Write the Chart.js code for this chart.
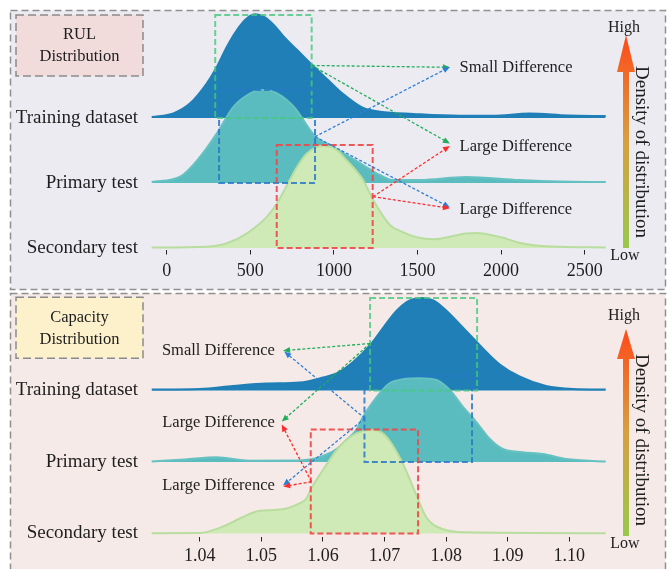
<!DOCTYPE html>
<html><head><meta charset="utf-8">
<script src="https://cdn.jsdelivr.net/npm/chart.js@4.4.1/dist/chart.umd.min.js"></script>
<style>
html,body{margin:0;padding:0;background:#fff;}
#wrap{position:relative;width:667px;height:569px;overflow:hidden;}
canvas{position:absolute;left:0;}
#c1{top:0}
#c2{top:291px}
</style></head><body>
<div id="wrap"><canvas id="c1" width="667" height="291"></canvas><canvas id="c2" width="667" height="278"></canvas></div>
<script>
// Ridge rows, bottom to top
const rowNames = ['Secondary test', 'Primary test', 'Training dataset'];

// ---- RUL distribution (kernel density, scaled to the row spacing) ----
const rulTicks = [0, 500, 1000, 1500, 2000, 2500];
const rulTrainX = [-90, 40, 140, 240, 300, 360, 420, 480, 530, 580, 640, 700, 780, 870, 965, 1055, 1175, 1275, 1475, 1750, 1950, 2170, 2400, 2626];
const rulTrainD = [0.015, 0.072, 0.226, 0.534, 0.789, 1.097, 1.354, 1.534, 1.595, 1.558, 1.431, 1.251, 1.046, 0.815, 0.585, 0.369, 0.154, 0.097, 0.062, 0.034, 0.034, 0.069, 0.038, 0.031];
const rulPrimX = [-90, 80, 200, 300, 400, 500, 570, 660, 760, 890, 975, 1075, 1175, 1275, 1355, 1515, 1790, 2110, 2350, 2626];
const rulPrimD = [0.015, 0.097, 0.405, 0.765, 1.174, 1.38, 1.431, 1.38, 1.174, 0.712, 0.585, 0.431, 0.277, 0.123, 0.046, 0.046, 0.092, 0.046, 0.023, 0.015];
const rulSecX = [-90, 240, 360, 480, 600, 660, 720, 780, 840, 925, 995, 1075, 1175, 1235, 1335, 1395, 1495, 1595, 1790, 1850, 1995, 2115, 2295, 2626];
const rulSecD = [0.008, 0.02, 0.072, 0.226, 0.482, 0.688, 0.969, 1.251, 1.457, 1.569, 1.546, 1.354, 1.046, 0.738, 0.354, 0.262, 0.165, 0.134, 0.223, 0.231, 0.169, 0.077, 0.023, 0.008];

// ---- Capacity distribution ----
const capTicks = [1.04, 1.05, 1.06, 1.07, 1.08, 1.09, 1.10];
const capTrainX = [1.0322, 1.04, 1.0454, 1.0508, 1.0562, 1.06, 1.0622, 1.0649, 1.0676, 1.0698, 1.072, 1.0741, 1.0758, 1.0779, 1.08, 1.0827, 1.0855, 1.0887, 1.0919, 1.0962, 1.1006, 1.1059];
const capTrainD = [0.014, 0.021, 0.063, 0.098, 0.112, 0.182, 0.238, 0.399, 0.629, 0.881, 1.119, 1.259, 1.294, 1.259, 1.119, 0.881, 0.629, 0.364, 0.196, 0.063, 0.021, 0.014];
const capPrimX = [1.0322, 1.0376, 1.0427, 1.0481, 1.0562, 1.06, 1.0627, 1.0638, 1.0654, 1.0665, 1.0687, 1.0708, 1.073, 1.0757, 1.0784, 1.0806, 1.0827, 1.0849, 1.0871, 1.0892, 1.0924, 1.0957, 1.0995, 1.1059];
const capPrimD = [0.007, 0.035, 0.066, 0.018, 0.021, 0.084, 0.21, 0.308, 0.448, 0.634, 0.909, 1.101, 1.157, 1.171, 1.147, 1.007, 0.773, 0.559, 0.322, 0.182, 0.136, 0.112, 0.042, 0.007];
const capSecX = [1.0322, 1.04, 1.0438, 1.0465, 1.0492, 1.0519, 1.0541, 1.0562, 1.0573, 1.0581, 1.06, 1.0627, 1.0654, 1.0676, 1.0692, 1.0708, 1.073, 1.0751, 1.0768, 1.0794, 1.0832, 1.1059];
const capSecD = [0.004, 0.007, 0.098, 0.21, 0.308, 0.329, 0.35, 0.42, 0.49, 0.629, 0.888, 1.217, 1.399, 1.448, 1.427, 1.301, 0.972, 0.552, 0.224, 0.063, 0.017, 0.004];

const SERIF = "'Liberation Serif', 'Times New Roman', serif";
const TXT = '#1e1e1e';
const COL = {
  train: '#1f7fb6', trainEdge: '#1f7fb6',
  prim: '#5bbcbf', primEdge: '#66c1c2',
  sec: '#cfeab7', secEdge: '#b8dd9e',
  gBox: 'rgba(70,200,125,0.8)', bBox: 'rgba(40,120,200,0.85)', rBox: 'rgba(240,70,70,0.9)',
  g: '#1fae5a', b: '#2c7fd6', r: '#ff2b2b'
};

function ridge(xs, ds, off, fillC, edgeC, order) {
  return {
    data: xs.map((x, i) => ({ x: x, y: off + ds[i] })),
    fill: { value: off },
    backgroundColor: fillC, borderColor: edgeC, borderWidth: 2,
    pointRadius: 0, cubicInterpolationMode: 'monotone', order: order, clip: false
  };
}

function arrow(ctx, x1, y1, x2, y2, color) {
  const a = Math.atan2(y2 - y1, x2 - x1), L = 7, W = 3;
  ctx.save();
  ctx.strokeStyle = color; ctx.fillStyle = color; ctx.lineWidth = 1.3;
  ctx.setLineDash([3, 2]);
  ctx.beginPath(); ctx.moveTo(x1, y1);
  ctx.lineTo(x2 - Math.cos(a) * L * 0.8, y2 - Math.sin(a) * L * 0.8); ctx.stroke();
  ctx.setLineDash([]);
  ctx.beginPath();
  ctx.moveTo(x2, y2);
  ctx.lineTo(x2 - L * Math.cos(a) + W * Math.sin(a), y2 - L * Math.sin(a) - W * Math.cos(a));
  ctx.lineTo(x2 - L * Math.cos(a) - W * Math.sin(a), y2 - L * Math.sin(a) + W * Math.cos(a));
  ctx.closePath(); ctx.fill();
  ctx.restore();
}

// Panel frame, title box and density colour bar (canvas pixel space)
const decor = {
  id: 'decor',
  beforeDraw(chart) {
    const d = chart.options.plugins.decor, ctx = chart.ctx;
    ctx.save();
    ctx.fillStyle = d.bg;
    ctx.fillRect(10.5, d.frameTop, 655, d.frameBottom - d.frameTop);
    ctx.strokeStyle = '#8f8f8f'; ctx.lineWidth = 1.5; ctx.setLineDash([7, 4]);
    ctx.strokeRect(10.5, d.frameTop, 655, d.frameBottom - d.frameTop);
    // title box
    ctx.fillStyle = d.titleBg;
    ctx.fillRect(16, d.titleTop, 127, 61);
    ctx.strokeStyle = '#8a8a8a'; ctx.setLineDash([8, 4]);
    ctx.strokeRect(16, d.titleTop, 127, 61);
    ctx.setLineDash([]);
    ctx.fillStyle = TXT; ctx.font = '16.5px ' + SERIF; ctx.textAlign = 'center'; ctx.textBaseline = 'middle';
    ctx.fillText(d.title[0], 79.5, d.titleTop + 20);
    ctx.fillText(d.title[1], 79.5, d.titleTop + 42);
    ctx.restore();
  },
  afterDraw(chart) {
    const d = chart.options.plugins.decor, ctx = chart.ctx;
    const cx = 626, tip = d.barTip, base = d.barBase, bot = d.barBottom;
    ctx.save();
    const g = ctx.createLinearGradient(0, bot, 0, tip);
    g.addColorStop(0, '#98c94a'); g.addColorStop(0.5, '#d7a03f'); g.addColorStop(1, '#ff4a1a');
    ctx.fillStyle = g;
    ctx.beginPath();
    ctx.moveTo(cx - 3, bot); ctx.lineTo(cx - 3, base); ctx.lineTo(cx - 9, base);
    ctx.lineTo(cx, tip); ctx.lineTo(cx + 9, base); ctx.lineTo(cx + 3, base); ctx.lineTo(cx + 3, bot);
    ctx.closePath(); ctx.fill();
    ctx.fillStyle = TXT; ctx.font = '16px ' + SERIF; ctx.textAlign = 'center'; ctx.textBaseline = 'middle';
    ctx.fillText('High', 624, d.highY);
    ctx.fillText('Low', 625, d.lowY);
    ctx.translate(641, d.densY); ctx.rotate(Math.PI / 2);
    ctx.font = '19px ' + SERIF;
    ctx.fillText('Density of distribution', 0, 0);
    ctx.restore();
  }
};

// Dashed comparison boxes, arrows and notes (data space)
const notes = {
  id: 'notes',
  afterDatasetsDraw(chart) {
    const n = chart.options.plugins.notes, ctx = chart.ctx;
    const X = v => chart.scales.x.getPixelForValue(v), Y = v => chart.scales.y.getPixelForValue(v);
    ctx.save();
    n.boxes.forEach(b => {
      ctx.strokeStyle = COL[b.c]; ctx.lineWidth = 2; ctx.setLineDash([6, 3]);
      ctx.strokeRect(X(b.x0), Y(b.y1), X(b.x1) - X(b.x0), Y(b.y0) - Y(b.y1));
    });
    ctx.setLineDash([]);
    n.arrows.forEach(a => arrow(ctx, X(a.from[0]), Y(a.from[1]), X(a.to[0]), Y(a.to[1]), COL[a.c]));
    ctx.fillStyle = TXT; ctx.font = '16.5px ' + SERIF; ctx.textBaseline = 'middle';
    n.labels.forEach(l => { ctx.textAlign = l.align; ctx.fillText(l.text, X(l.x), Y(l.y)); });
    ctx.restore();
  }
};

function makePanel(id, p) {
  return new Chart(document.getElementById(id), {
    type: 'line',
    data: { datasets: [
      ridge(p.secX, p.secD, 0, COL.sec, COL.secEdge, 0),
      ridge(p.primX, p.primD, 1, COL.prim, COL.primEdge, 1),
      ridge(p.trainX, p.trainD, 2, COL.train, COL.trainEdge, 2)
    ] },
    options: {
      responsive: false, animation: false, devicePixelRatio: 1,
      layout: { padding: { left: 0, right: 61.3, top: p.padTop, bottom: 0 } },
      scales: {
        x: {
          type: 'linear', min: p.xMin, max: p.xMax,
          afterFit: s => { s.height = p.xAxisH; s.paddingLeft = 0; s.paddingRight = 0; },
          afterBuildTicks: s => { s.ticks = p.ticks.map(v => ({ value: v })); },
          grid: { display: true, drawOnChartArea: false, drawTicks: true, tickLength: 4.5, color: '#222', lineWidth: 1 },
          border: { display: false },
          ticks: { color: TXT, font: { family: SERIF, size: 18 }, padding: p.tickPad, maxRotation: 0, autoSkip: false, callback: p.fmt }
        },
        y: {
          type: 'linear', min: p.yMin, max: p.yMax,
          afterFit: s => { s.width = 151.7; s.paddingTop = 0; s.paddingBottom = 0; },
          afterBuildTicks: s => { s.ticks = [0, 1, 2].map(v => ({ value: v })); },
          grid: { display: false, drawTicks: false },
          border: { display: false },
          ticks: { color: TXT, font: { family: SERIF, size: 19 }, padding: 13.7, callback: v => rowNames[v] }
        }
      },
      plugins: { legend: { display: false }, tooltip: { enabled: false }, decor: p.decor, notes: p.notes }
    },
    plugins: [decor, notes]
  });
}

makePanel('c1', {
  trainX: rulTrainX, trainD: rulTrainD, primX: rulPrimX, primD: rulPrimD, secX: rulSecX, secD: rulSecD,
  ticks: rulTicks, fmt: v => String(v), xMin: -90, xMax: 2626,
  yMin: -2 / 65, yMax: 236 / 65, padTop: 12, xAxisH: 41, tickPad: 6,
  decor: { bg: '#ecebf2', frameTop: 10.5, frameBottom: 289.5, titleBg: '#f1dcdb', titleTop: 15, title: ['RUL', 'Distribution'],
           barTip: 35, barBase: 72, barBottom: 248, highY: 28, lowY: 256, densY: 152 },
  notes: {
    boxes: [
      { x0: 290, x1: 867, y0: 2, y1: 3.585, c: 'gBox' },
      { x0: 313, x1: 887, y0: 1, y1: 2.431, c: 'bBox' },
      { x0: 658, x1: 1232, y0: 0, y1: 1.585, c: 'rBox' }
    ],
    arrows: [
      { from: [867, 2.808], to: [1694, 2.78], c: 'g' },
      { from: [867, 2.808], to: [1694, 1.608], c: 'g' },
      { from: [887, 1.712], to: [1694, 2.785], c: 'b' },
      { from: [887, 1.712], to: [1694, 0.623], c: 'b' },
      { from: [1234, 0.789], to: [1694, 1.569], c: 'r' },
      { from: [1234, 0.789], to: [1694, 0.611], c: 'r' }
    ],
    labels: [
      { text: 'Small Difference', x: 1752, y: 2.774, align: 'left' },
      { text: 'Large Difference', x: 1752, y: 1.558, align: 'left' },
      { text: 'Large Difference', x: 1752, y: 0.595, align: 'left' }
    ]
  }
});

makePanel('c2', {
  trainX: capTrainX, trainD: capTrainD, primX: capPrimX, primD: capPrimD, secX: capSecX, secD: capSecD,
  ticks: capTicks, fmt: v => v.toFixed(2), xMin: 1.0322, xMax: 1.1059,
  yMin: -3.5 / 71.5, yMax: 238.5 / 71.5, padTop: 4, xAxisH: 32, tickPad: 4,
  decor: { bg: '#f5eae7', frameTop: 2.5, frameBottom: 300, titleBg: '#fdf1cc', titleTop: 6.3, title: ['Capacity', 'Distribution'],
           barTip: 38, barBase: 68, barBottom: 245, highY: 24.7, lowY: 253, densY: 149 },
  notes: {
    boxes: [
      { x0: 1.06765, x1: 1.08502, y0: 2, y1: 3.294, c: 'gBox' },
      { x0: 1.06674, x1: 1.0842, y0: 1, y1: 2.207, c: 'bBox' },
      { x0: 1.05802, x1: 1.07544, y0: 0, y1: 1.455, c: 'rBox' }
    ],
    arrows: [
      { from: [1.06765, 2.657], to: [1.05352, 2.557], c: 'g' },
      { from: [1.06765, 2.657], to: [1.05331, 1.566], c: 'g' },
      { from: [1.06679, 1.611], to: [1.05372, 2.545], c: 'b' },
      { from: [1.06679, 1.611], to: [1.05352, 0.671], c: 'b' },
      { from: [1.05813, 0.724], to: [1.05331, 1.524], c: 'r' },
      { from: [1.05813, 0.724], to: [1.05355, 0.657], c: 'r' }
    ],
    labels: [
      { text: 'Small Difference', x: 1.05218, y: 2.557, align: 'right' },
      { text: 'Large Difference', x: 1.05218, y: 1.555, align: 'right' },
      { text: 'Large Difference', x: 1.05218, y: 0.668, align: 'right' }
    ]
  }
});
</script>
</body></html>
